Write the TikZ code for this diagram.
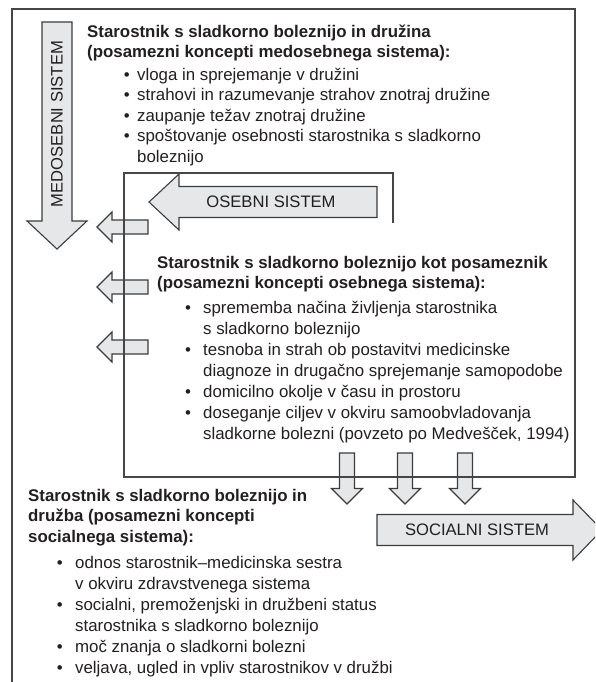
\documentclass[tikz,border=0pt]{standalone}
\usepackage{fontspec}
\setmainfont{Liberation Sans}
\definecolor{txtc}{RGB}{35,31,32}
\definecolor{afill}{RGB}{230,231,232}
\definecolor{aline}{RGB}{60,60,60}
\definecolor{fline}{RGB}{70,70,70}
\newcommand\bl[1]{\makebox[#1pt][l]{•}}
\begin{document}
\begin{tikzpicture}[x=1pt,y=1pt,
 frame/.style={draw=fline, line width=1.2pt},
 barrow/.style={draw=aline, fill=afill, line width=1.1pt, line join=miter},
 head/.style={inner sep=0, anchor=north west, align=left, text=txtc, font=\fontsize{16.85}{20}\selectfont\bfseries},
 list/.style={inner sep=0, anchor=north west, align=left, text=txtc, font=\fontsize{16.85}{21}\selectfont},
 lab/.style={inner sep=0, text=txtc, font=\fontsize{16.6}{20}\selectfont}]
\useasboundingbox (0,0) rectangle (595,-682);
\clip (0,0) rectangle (595,-682);

% MEDOSEBNI arrow
\draw[barrow] (42,-22) -- (72,-22) -- (72,-221) -- (87,-221) -- (57,-249) -- (27,-221) -- (42,-221) -- cycle;
% OSEBNI arrow
\draw[barrow] (377,-186.5) -- (179,-186.5) -- (179,-174) -- (149,-202) -- (179,-230) -- (179,-217.5) -- (377,-217.5) -- cycle;
% small left arrows
\foreach \yy in {227,287,347}{
 \draw[barrow] (148,{-\yy+7}) -- (112,{-\yy+7}) -- (112,{-\yy+15}) -- (97,-\yy) -- (112,{-\yy-15}) -- (112,{-\yy-7}) -- (148,{-\yy-7}) -- cycle;
}
% down arrows
\foreach \xx in {347,405,465}{
 \draw[barrow] ({\xx-7.5},-453) -- ({\xx+7.5},-453) -- ({\xx+7.5},-488.5) -- ({\xx+15.5},-488.5) -- (\xx,-504) -- ({\xx-15.5},-488.5) -- ({\xx-7.5},-488.5) -- cycle;
}
% SOCIALNI arrow
\draw[barrow] (377,-514.5) -- (573,-514.5) -- (573,-500) -- (602,-530) -- (573,-560) -- (573,-545.5) -- (377,-545.5) -- cycle;

% frames
\draw[frame] (12,-682) -- (12,-9) -- (575,-9) -- (575,-477) -- (124,-477) -- (124,-173) -- (393,-173) -- (393,-223);

% labels
\node[lab, rotate=90] (tMed) at (57,-124) {MEDOSEBNI SISTEM};
\node[lab] (tOseb) at (271,-202) {OSEBNI SISTEM};
\node[lab] (tSoc) at (477,-530) {SOCIALNI SISTEM};

% text blocks
\node[head] (h1) at (87,-23) {\rule{0pt}{14pt}Starostnik s sladkorno boleznijo in družina\\(posamezni koncepti medosebnega sistema):};
\node[list, font=\fontsize{16.85}{20.5}\selectfont] (l1) at (123.6,-66) {\rule{0pt}{14pt}\bl{13.4}vloga in sprejemanje v družini\\
\bl{13.4}strahovi in razumevanje strahov znotraj družine\\
\bl{13.4}zaupanje težav znotraj družine\\
\bl{13.4}spoštovanje osebnosti starostnika s sladkorno\\
\hspace*{13.4pt}boleznijo};

\node[head] (h2) at (157,-254) {\rule{0pt}{14pt}Starostnik s sladkorno boleznijo kot posameznik\\(posamezni koncepti osebnega sistema):};
\node[list] (l2) at (185,-299) {\rule{0pt}{14pt}\bl{18}sprememba načina življenja starostnika\\
\hspace*{18pt}s sladkorno boleznijo\\
\bl{18}tesnoba in strah ob postavitvi medicinske\\
\hspace*{18pt}diagnoze in drugačno sprejemanje samopodobe\\
\bl{18}domicilno okolje v času in prostoru\\
\bl{18}doseganje ciljev v okviru samoobvladovanja\\
\hspace*{18pt}sladkorne bolezni (povzeto po Medvešček, 1994)};

\node[head, font=\fontsize{16.85}{20.5}\selectfont\bfseries] (h3) at (28,-487) {\rule{0pt}{14pt}Starostnik s sladkorno boleznijo in\\družba (posamezni koncepti\\socialnega sistema):};
\node[list] (l3) at (56.6,-554) {\rule{0pt}{14pt}\bl{18.4}odnos starostnik–medicinska sestra\\
\hspace*{18.4pt}v okviru zdravstvenega sistema\\
\bl{18.4}socialni, premoženjski in družbeni status\\
\hspace*{18.4pt}starostnika s sladkorno boleznijo\\
\bl{18.4}moč znanja o sladkorni bolezni\\
\bl{18.4}veljava, ugled in vpliv starostnikov v družbi};
\end{tikzpicture}
\end{document}
